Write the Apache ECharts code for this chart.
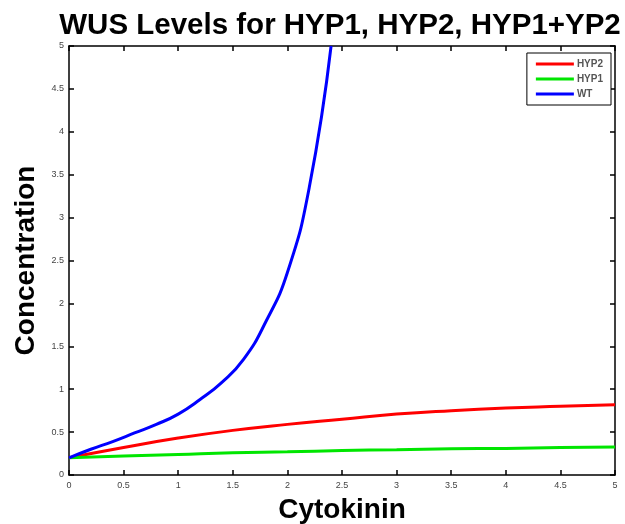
<!DOCTYPE html>
<html>
<head>
<meta charset="utf-8">
<script src="https://cdn.jsdelivr.net/npm/echarts@6/dist/echarts.min.js"></script>
<style>
  html, body { margin: 0; padding: 0; background: #fff; }
  #chart { width: 625px; height: 524px; }
</style>
</head>
<body>
<div id="chart"></div>
<script>
// values
const cytokininWT = [0, 0.2, 0.4, 0.6, 0.8, 1.0, 1.2, 1.4, 1.6, 1.8, 2.0, 2.2, 2.4];
const wtLevels = [0.2, 0.30, 0.39, 0.49, 0.59, 0.71, 0.88, 1.08, 1.35, 1.78, 2.36, 3.35, 5.0];

const cytokinin = [0, 0.5, 1, 1.5, 2, 2.5, 3, 3.5, 4, 4.5, 5];
const hyp2Levels = [0.2, 0.32, 0.43, 0.52, 0.59, 0.65, 0.71, 0.75, 0.78, 0.80, 0.82];
const hyp1Levels = [0.2, 0.22, 0.24, 0.26, 0.27, 0.285, 0.295, 0.305, 0.31, 0.32, 0.325];

const pairs = (xs, ys) => xs.map((x, i) => [x, ys[i]]);

const chart = echarts.init(document.getElementById('chart'));

const baseAxis = {
  type: 'value',
  min: 0,
  max: 5,
  interval: 0.5,
  axisLine: { show: true, onZero: false, lineStyle: { color: '#000', width: 1.5 } },
  axisTick: { show: true, inside: true, length: 5, lineStyle: { color: '#000', width: 1.5 } },
  splitLine: { show: false }
};

const labelStyle = {
  fontFamily: 'Liberation Sans',
  fontSize: 9,
  color: '#444'
};

const nameStyle = {
  fontFamily: 'Liberation Sans',
  fontSize: 28,
  fontWeight: 'bold',
  color: '#000'
};

const option = {
  animation: false,
  backgroundColor: '#fff',
  title: {
    text: 'WUS Levels for HYP1, HYP2, HYP1+YP2',
    left: 335,
    textAlign: 'center',
    top: 6,
    textStyle: {
      fontFamily: 'Liberation Sans',
      fontSize: 29.5,
      fontWeight: 'bold',
      color: '#000'
    }
  },
  legend: {
    orient: 'vertical',
    right: 14,
    top: 53,
    backgroundColor: '#fff',
    borderColor: '#000',
    borderWidth: 1,
    padding: [6, 8, 6, 9],
    itemGap: 5,
    itemWidth: 38,
    itemHeight: 3,
    icon: 'rect',
    textStyle: { fontFamily: 'Liberation Sans', fontSize: 10, fontWeight: 'bold', color: '#555', padding: [0, 0, 0, -2] },
    data: ['HYP2', 'HYP1', 'WT']
  },
  grid: { left: 69, right: 10, top: 46, bottom: 49, outerBoundsMode: 'none' },
  xAxis: [
    Object.assign({}, baseAxis, {
      position: 'bottom',
      axisLabel: Object.assign({ margin: 6 }, labelStyle),
      name: 'Cytokinin',
      nameLocation: 'middle',
      nameGap: 21,
      nameTextStyle: nameStyle
    }),
    Object.assign({}, baseAxis, {
      position: 'top',
      axisLabel: { show: false }
    })
  ],
  yAxis: [
    Object.assign({}, baseAxis, {
      position: 'left',
      axisLabel: Object.assign({ margin: 5 }, labelStyle),
      name: 'Concentration',
      nameLocation: 'middle',
      nameGap: 29,
      nameTextStyle: nameStyle
    }),
    Object.assign({}, baseAxis, {
      position: 'right',
      axisLabel: { show: false }
    })
  ],
  series: [
    {
      name: 'HYP2',
      type: 'line',
      data: pairs(cytokinin, hyp2Levels),
      smooth: true,
      showSymbol: false,
      color: '#ff0000',
      lineStyle: { width: 3 }
    },
    {
      name: 'HYP1',
      type: 'line',
      data: pairs(cytokinin, hyp1Levels),
      smooth: true,
      showSymbol: false,
      color: '#00e600',
      lineStyle: { width: 3 }
    },
    {
      name: 'WT',
      type: 'line',
      data: pairs(cytokininWT, wtLevels),
      smooth: true,
      showSymbol: false,
      clip: true,
      color: '#0000ff',
      lineStyle: { width: 3 }
    }
  ]
};

chart.setOption(option);
</script>
</body>
</html>
